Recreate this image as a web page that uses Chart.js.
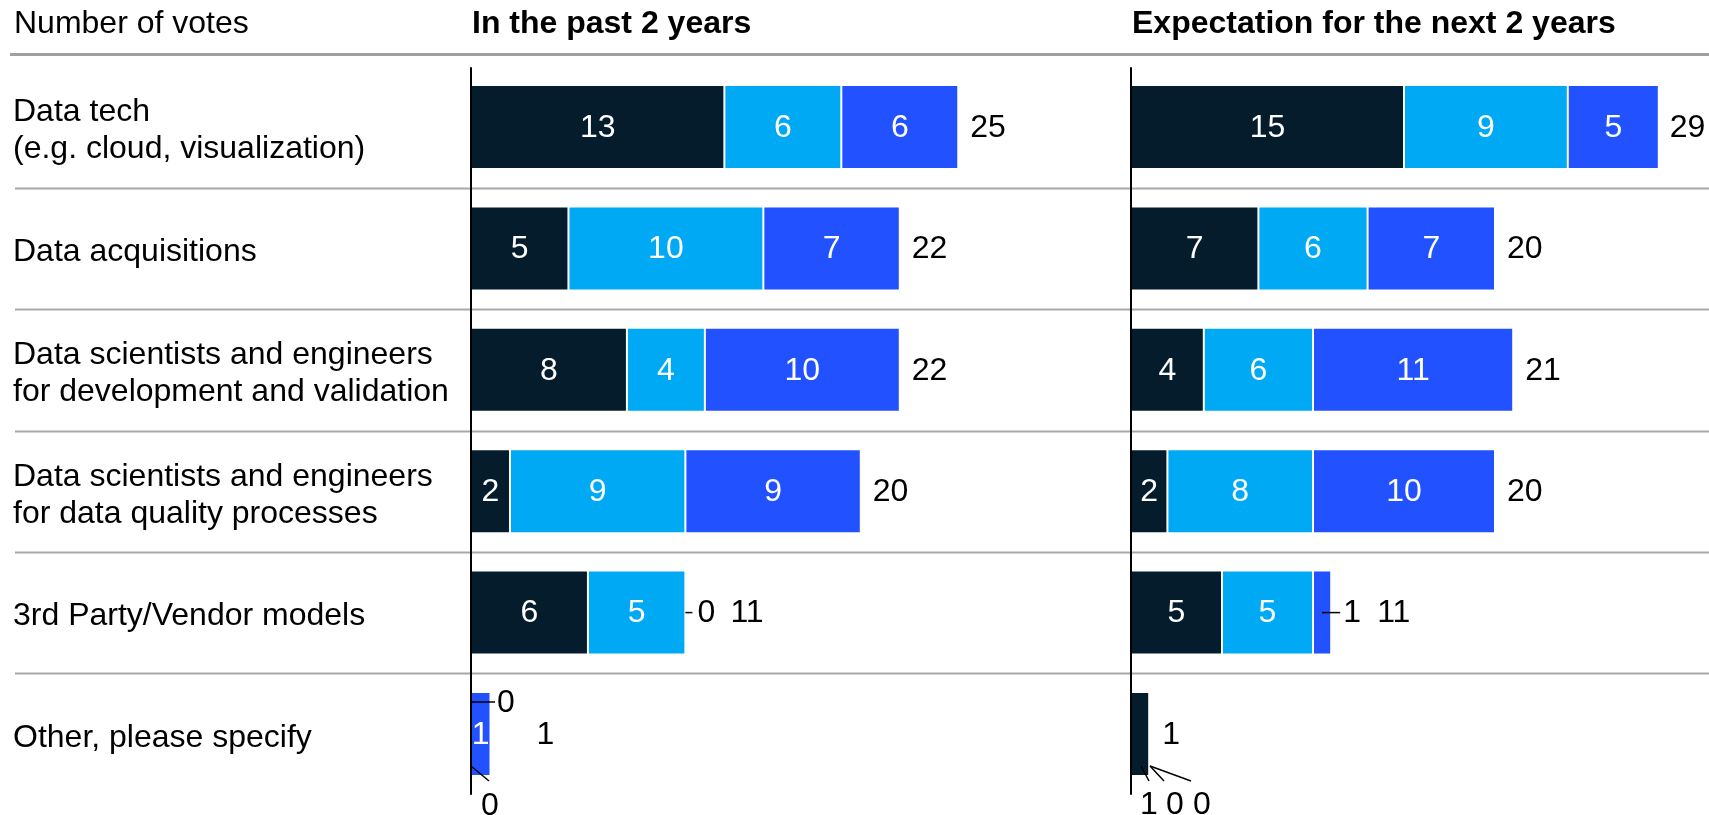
<!DOCTYPE html>
<html><head><meta charset="utf-8">
<script src="https://cdn.jsdelivr.net/npm/chart.js@4.4.1/dist/chart.umd.min.js"></script>
<style>
html,body{margin:0;padding:0;background:#fff;overflow:hidden;}
#c1{position:absolute;left:0;top:0;}
#c2{position:absolute;left:1100px;top:0;}
</style></head><body>
<canvas id="c1" width="1709" height="815"></canvas>
<canvas id="c2" width="609" height="815"></canvas>
<script>
// ---- data ----
const categories = [
  ["Data tech", "(e.g. cloud, visualization)"],
  ["Data acquisitions"],
  ["Data scientists and engineers", "for development and validation"],
  ["Data scientists and engineers", "for data quality processes"],
  ["3rd Party/Vendor models"],
  ["Other, please specify"]
];
const unitTitle = "Number of votes";
const panelTitles = ["In the past 2 years", "Expectation for the next 2 years"];
const seriesNames = ["Series 1", "Series 2", "Series 3"];
const seriesColors = ["#051C2C", "#00A9F4", "#2251FF"];

const past1 = [13, 5, 8, 2, 6, 0];
const past2 = [6, 10, 4, 9, 5, 0];
const past3 = [6, 7, 10, 9, 0, 1];
const pastTotals = [25, 22, 22, 20, 11, 1];

const next1 = [15, 7, 4, 2, 5, 1];
const next2 = [9, 6, 6, 8, 5, 0];
const next3 = [5, 7, 11, 10, 1, 0];
const nextTotals = [29, 20, 21, 20, 11, 1];

// ---- styling / annotation layout ----
const FONT = '"Liberation Sans", Arial, Helvetica, sans-serif';
const FS = 32;

// callouts: label drawn outside a bar with a leader line (offsets relative to bar geometry / axis)
const pastCallouts = [
  {ds: 2, idx: 4, from: ['end', 0, 'cy', 0], to: ['end', 7, 'cy', 0], label: ['end', 12, 'cy', 0, 'left']},
  {ds: 1, idx: 5, from: ['axis', 0, 'top', 10], to: ['axis', 24, 'top', 10], label: ['axis', 26, 'top', 10, 'left']},
  {ds: 0, idx: 5, from: ['axis', 0, 'bottom', -10], to: ['axis', 18, 'bottom', 5], label: ['axis', 19, 'bottom', 29, 'center']}
];
const nextCallouts = [
  {ds: 2, idx: 4, from: ['base', 9, 'cy', 0], to: ['end', 9, 'cy', 0], label: ['end', 12, 'cy', 0, 'left']},
  {ds: 0, idx: 5, from: ['axis', 10, 'bottom', -10], to: ['axis', 18, 'bottom', 5], label: ['axis', 18, 'bottom', 28, 'center']},
  {ds: 1, idx: 5, from: ['axis', 19, 'bottom', -10], to: ['axis', 33, 'bottom', 5], label: ['axis', 44, 'bottom', 28, 'center']},
  {ds: 2, idx: 5, from: ['axis', 19, 'bottom', -10], to: ['axis', 60, 'bottom', 5], label: ['axis', 71, 'bottom', 28, 'center']}
];
const pastTotalGap = [12, 12, 12, 12, 45, 46];
const nextTotalGap = [11, 12, 12, 12, 46, 13];

function refVal(bar, x0, ref) {
  const h = bar.height / 2;
  switch (ref) {
    case 'axis': return x0;
    case 'base': return bar.base;
    case 'end': return bar.x;
    case 'top': return bar.y - h;
    case 'bottom': return bar.y + h;
    default: return bar.y;
  }
}

function labelPlugin(opts) {
  return {
    id: 'labels' + opts.name,
    beforeDatasetsDraw(chart) {
      if (!opts.frame) return;
      const ctx = chart.ctx, ys = chart.scales.y;
      const half = (ys.getPixelForValue(1) - ys.getPixelForValue(0)) / 2;
      ctx.save();
      // header rule
      ctx.strokeStyle = '#a0a0a0'; ctx.lineWidth = 3;
      ctx.beginPath(); ctx.moveTo(10, 54.5); ctx.lineTo(chart.width, 54.5); ctx.stroke();
      // row separators
      ctx.strokeStyle = '#a8a8a8'; ctx.lineWidth = 2;
      for (let j = 0; j < categories.length - 1; j++) {
        const y = Math.round(ys.getPixelForValue(j) + half) + 0.5;
        ctx.beginPath(); ctx.moveTo(15, y); ctx.lineTo(chart.width, y); ctx.stroke();
      }
      // unit title
      ctx.fillStyle = '#000'; ctx.textBaseline = 'middle'; ctx.textAlign = 'left';
      ctx.font = FS + 'px ' + FONT;
      ctx.fillText(unitTitle, 14, 24);
      // category labels
      categories.forEach((lines, j) => {
        const cy = ys.getPixelForValue(j) + 4;
        const lh = 37;
        lines.forEach((t, k) => {
          ctx.fillText(t, 13, cy + (k - (lines.length - 1) / 2) * lh);
        });
      });
      ctx.restore();
    },
    afterDatasetsDraw(chart) {
      const ctx = chart.ctx, xs = chart.scales.x, ys = chart.scales.y, area = chart.chartArea;
      const x0 = xs.getPixelForValue(0);
      ctx.save();
      // axis line
      ctx.strokeStyle = '#000'; ctx.lineWidth = 2;
      ctx.beginPath(); ctx.moveTo(x0, area.top + 1); ctx.lineTo(x0, area.bottom); ctx.stroke();
      // panel title
      ctx.fillStyle = '#000'; ctx.textBaseline = 'middle'; ctx.textAlign = 'left';
      ctx.font = 'bold ' + FS + 'px ' + FONT;
      ctx.fillText(opts.title, x0 + 1, 24);
      ctx.font = FS + 'px ' + FONT;
      const isCallout = (i, j) => opts.callouts.some(c => c.ds === i && c.idx === j);
      // inside value labels
      chart.data.datasets.forEach((ds, i) => {
        const meta = chart.getDatasetMeta(i);
        meta.data.forEach((el, j) => {
          const v = ds.data[j];
          if (!v || isCallout(i, j)) return;
          const b = el.getProps(['x', 'y', 'base', 'height'], true);
          ctx.fillStyle = '#fff'; ctx.textAlign = 'center';
          ctx.fillText(String(v), (b.x + b.base) / 2, b.y + 1);
        });
      });
      // callouts
      ctx.lineWidth = 1.5; ctx.strokeStyle = '#000'; ctx.fillStyle = '#000';
      opts.callouts.forEach(c => {
        const el = chart.getDatasetMeta(c.ds).data[c.idx];
        const b = el.getProps(['x', 'y', 'base', 'height'], true);
        const fx = refVal(b, x0, c.from[0]) + c.from[1], fy = refVal(b, x0, c.from[2]) + c.from[3];
        const tx = refVal(b, x0, c.to[0]) + c.to[1], ty = refVal(b, x0, c.to[2]) + c.to[3];
        ctx.beginPath(); ctx.moveTo(fx, fy); ctx.lineTo(tx, ty); ctx.stroke();
        const lx = refVal(b, x0, c.label[0]) + c.label[1], ly = refVal(b, x0, c.label[2]) + c.label[3];
        ctx.textAlign = c.label[4];
        ctx.fillText(String(chart.data.datasets[c.ds].data[c.idx]), lx, ly + 1);
      });
      // totals
      ctx.textAlign = 'left'; ctx.fillStyle = '#000';
      opts.totals.forEach((t, j) => {
        const endX = xs.getPixelForValue(t);
        ctx.fillText(String(t), endX + opts.gaps[j], ys.getPixelForValue(j) + 1);
      });
      ctx.restore();
    }
  };
}

function makeChart(id, series, totals, cfg) {
  return new Chart(document.getElementById(id), {
    type: 'bar',
    data: {
      labels: categories.map(c => c.join(' ')),
      datasets: series.map((d, i) => ({
        label: seriesNames[i], data: d, backgroundColor: seriesColors[i],
        borderColor: '#ffffff', borderWidth: 1, borderSkipped: false,
        categoryPercentage: 1, barPercentage: 0.692
      }))
    },
    options: {
      indexAxis: 'y', responsive: false, maintainAspectRatio: false, animation: false, events: [],
      layout: {padding: {left: cfg.padL, right: cfg.padR, top: 66.3, bottom: 20.3}},
      plugins: {legend: {display: false}, tooltip: {enabled: false}},
      scales: {
        x: {stacked: true, min: 0, max: cfg.max, display: false},
        y: {stacked: true, display: false}
      }
    },
    plugins: [labelPlugin({name: id, frame: cfg.frame, title: cfg.title, callouts: cfg.callouts, totals: totals, gaps: cfg.gaps})]
  });
}

makeChart('c1', [past1, past2, past3], pastTotals,
  {padL: 471, padR: 1709 - 471 - 30 * 19.49, max: 30, frame: true, title: panelTitles[0], callouts: pastCallouts, gaps: pastTotalGap});
makeChart('c2', [next1, next2, next3], nextTotals,
  {padL: 31, padR: 609 - 31 - 30 * 18.2, max: 30, frame: false, title: panelTitles[1], callouts: nextCallouts, gaps: nextTotalGap});
</script>
</body></html>
